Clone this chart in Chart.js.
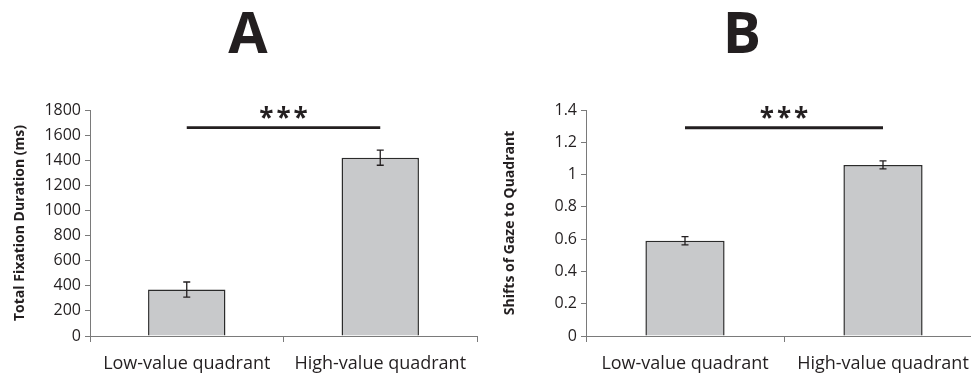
<!DOCTYPE html>
<html lang="en">
<head>
  <meta charset="UTF-8">
  <title>Fixation and gaze shifts</title>
  <script src="https://cdn.jsdelivr.net/npm/chart.js"></script>
  <style>
    html, body { margin: 0; padding: 0; background: #fff; overflow: hidden; }
    body { width: 971px; height: 376px; position: relative; }
    .panel { position: absolute; top: 0; height: 376px; }
    #panelA { left: 0; width: 490px; }
    #panelB { left: 490px; width: 500px; }
  </style>
</head>
<body>
  <div class="panel" id="panelA"><canvas id="chartA"></canvas></div>
  <div class="panel" id="panelB"><canvas id="chartB"></canvas></div>

  <script>
    // data
    const categories = ['Low-value quadrant', 'High-value quadrant'];

    const durationMeans = [370, 1420];
    const durationErrors = [60, 60];
    const durationTicks = [0, 200, 400, 600, 800, 1000, 1200, 1400, 1600, 1800];

    const shiftMeans = [0.59, 1.06];
    const shiftErrors = [0.025, 0.025];
    const shiftTicks = [0, 0.2, 0.4, 0.6, 0.8, 1, 1.2, 1.4];

    const sigLevelA = 1660;   // height of the significance bar
    const sigLevelB = 1.29;

    const FONT = "'Open Sans', 'DejaVu Sans', sans-serif";
    const INK = '#231f20';

    // error bars, significance bar and panel letter
    const extrasPlugin = {
      id: 'extras',
      afterDatasetsDraw(chart, args, opts) {
        const ctx = chart.ctx;
        const x = chart.scales.x;
        const y = chart.scales.y;
        ctx.save();
        ctx.strokeStyle = INK;
        ctx.lineWidth = 1.3;
        opts.means.forEach(function(m, i) {
          const cx = x.getPixelForValue(i);
          const top = y.getPixelForValue(m + opts.errors[i]);
          const bot = y.getPixelForValue(m - opts.errors[i]);
          ctx.beginPath();
          ctx.moveTo(cx, top); ctx.lineTo(cx, bot);
          ctx.moveTo(cx - 3.5, top); ctx.lineTo(cx + 3.5, top);
          ctx.moveTo(cx - 3.5, bot); ctx.lineTo(cx + 3.5, bot);
          ctx.stroke();
        });
        // significance bar
        const sy = y.getPixelForValue(opts.sigLevel);
        const x0 = x.getPixelForValue(0);
        const x1 = x.getPixelForValue(1);
        ctx.lineWidth = 2.8;
        ctx.beginPath();
        ctx.moveTo(x0, sy); ctx.lineTo(x1, sy);
        ctx.stroke();
        ctx.fillStyle = INK;
        ctx.textAlign = 'center';
        ctx.textBaseline = 'alphabetic';
        ctx.font = 'bold 26px ' + FONT;
        ctx.letterSpacing = '3px';
        ctx.fillText('***', (x0 + x1) / 2 + 1.5, sy - 1);
        ctx.letterSpacing = '0px';
        // panel letter
        ctx.font = 'bold 57px ' + FONT;
        ctx.fillText(opts.letter, opts.letterX, 53);
        ctx.restore();
      }
    };

    function makeChart(id, means, errors, ticks, yMax, yTitle, sigLevel, letter, letterX, yWidth, padRight, fmt) {
      return new Chart(document.getElementById(id), {
        type: 'bar',
        data: {
          labels: categories,
          datasets: [{
            data: means,
            backgroundColor: '#c8c9cb',
            borderColor: '#2b2b2b',
            borderWidth: 1.5,
            barPercentage: 0.4,
            categoryPercentage: 1
          }]
        },
        options: {
          responsive: true,
          maintainAspectRatio: false,
          animation: false,
          layout: { padding: { top: 110, right: padRight, bottom: 0, left: 0 } },
          plugins: {
            legend: { display: false },
            tooltip: { enabled: false },
            extras: { means: means, errors: errors, sigLevel: sigLevel, letter: letter, letterX: letterX }
          },
          scales: {
            x: {
              offset: true,
              afterFit: function(s) { s.height = 40; },
              border: { color: '#7a7a7a', width: 1 },
              grid: { offset: true, drawOnChartArea: false, color: '#7a7a7a', tickLength: 6 },
              ticks: { color: INK, padding: 11, font: { family: FONT, size: 18 } }
            },
            y: {
              min: 0,
              max: yMax,
              afterFit: function(s) { s.width = yWidth; },
              afterBuildTicks: function(s) { s.ticks = ticks.map(function(v) { return { value: v }; }); },
              border: { color: '#7a7a7a', width: 1 },
              grid: { drawOnChartArea: false, color: '#7a7a7a', tickLength: 5 },
              ticks: {
                color: INK,
                padding: 4,
                font: { family: FONT, size: 16 },
                callback: fmt
              },
              title: {
                display: true,
                text: yTitle,
                color: INK,
                padding: { top: 12, bottom: 0 },
                font: { family: FONT, size: 14, weight: 'bold' }
              }
            }
          }
        },
        plugins: [extrasPlugin]
      });
    }

    makeChart('chartA', durationMeans, durationErrors, durationTicks, 1800,
      'Total Fixation Duration (ms)', sigLevelA, 'A', 248, 90, 13,
      function(v) { return String(v); });

    makeChart('chartB', shiftMeans, shiftErrors, shiftTicks, 1.4,
      'Shifts of Gaze to Quadrant', sigLevelB, 'B', 252, 96, 8,
      function(v) { return String(Math.round(v * 10) / 10); });
  </script>
</body>
</html>
